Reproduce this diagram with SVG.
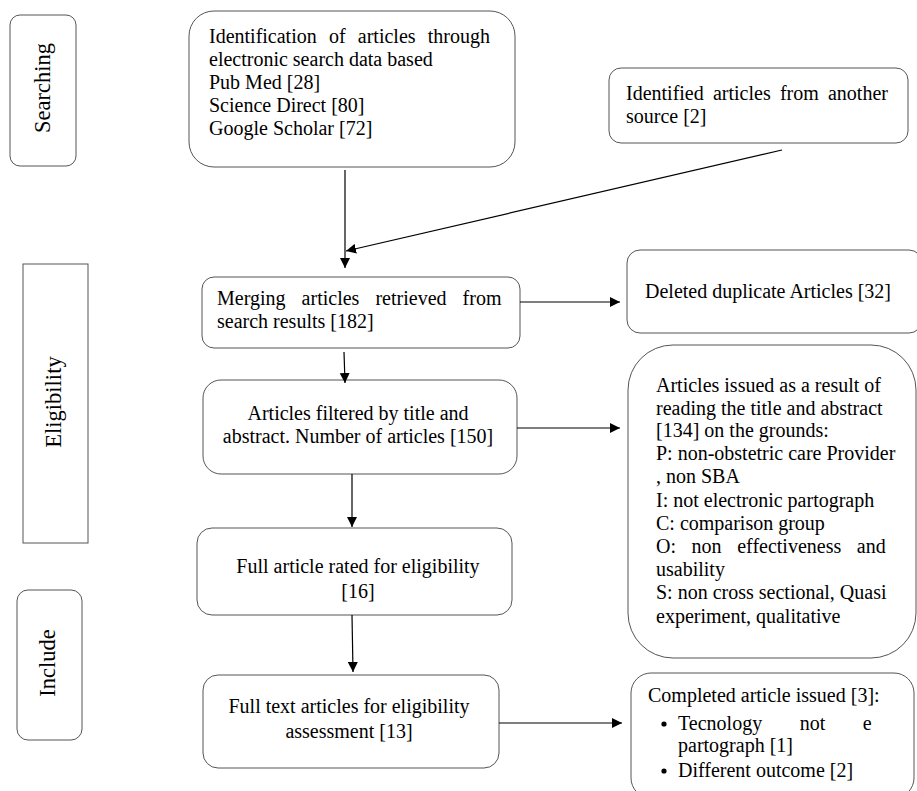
<svg xmlns="http://www.w3.org/2000/svg" width="917" height="791" viewBox="0 0 917 791">
<defs>
<marker id="ah" viewBox="0 0 10 10" refX="10" refY="5" markerWidth="10" markerHeight="10" markerUnits="userSpaceOnUse" orient="auto">
<path d="M0,0 L10,5 L0,10 Z" fill="#000"/>
</marker>
<style>
.box{fill:#fff;stroke:#555;stroke-width:1}
.t{font-family:"Liberation Serif","Times New Roman",serif;font-size:20px;fill:#000}
.v{font-family:"Liberation Serif","Times New Roman",serif;font-size:22.5px;fill:#000;text-anchor:middle}
.c{text-anchor:middle}
.ln{stroke:#000;stroke-width:1.2;fill:none;marker-end:url(#ah)}
</style>
</defs>
<rect width="917" height="791" fill="#fff"/>
<g id="stage-searching">
<rect class="box" x="10" y="15" width="66" height="151" rx="10"/>
<text class="v" transform="translate(50,88) rotate(-90)">Searching</text>
</g>
<g id="stage-eligibility">
<rect class="box" x="23" y="264" width="65" height="279"/>
<text class="v" transform="translate(61,402) rotate(-90)">Eligibility</text>
</g>
<g id="stage-include">
<rect class="box" x="17" y="590" width="65" height="150" rx="11"/>
<text class="v" transform="translate(55,663) rotate(-90)">Include</text>
</g>
<g id="identification">
<rect class="box" x="189" y="11" width="326" height="156" rx="25"/>
<text class="t" x="209" y="43" word-spacing="7.2">Identification of articles through</text>
<text class="t" x="209" y="66">electronic search data based</text>
<text class="t" x="209" y="89">Pub Med [28]</text>
<text class="t" x="209" y="112">Science Direct [80]</text>
<text class="t" x="209" y="135">Google Scholar [72]</text>
</g>
<g id="other-source">
<rect class="box" x="609" y="68" width="299" height="75" rx="12"/>
<text class="t" x="626" y="100" word-spacing="4.2">Identified articles from another</text>
<text class="t" x="626" y="123">source [2]</text>
</g>
<g id="merging">
<rect class="box" x="202" y="277" width="318" height="71" rx="12"/>
<text class="t" x="217" y="305" word-spacing="11.1">Merging articles retrieved from</text>
<text class="t" x="217" y="328">search results [182]</text>
</g>
<g id="deleted">
<rect class="box" x="627" y="250" width="295" height="83" rx="13"/>
<text class="t" x="645" y="298">Deleted duplicate Articles [32]</text>
</g>
<g id="filtered">
<rect class="box" x="203" y="380" width="314" height="94" rx="18"/>
<text class="t c" x="358" y="420">Articles filtered by title and</text>
<text class="t c" x="358" y="443">abstract. Number of articles [150]</text>
</g>
<g id="excluded">
<rect class="box" x="628" y="345" width="288" height="313" rx="45"/>
<text class="t" x="656" y="392">Articles issued as a result of</text>
<text class="t" x="656" y="415">reading the title and abstract</text>
<text class="t" x="656" y="437">[134] on the grounds:</text>
<text class="t" x="656" y="460">P: non-obstetric care Provider</text>
<text class="t" x="656" y="483">, non SBA</text>
<text class="t" x="656" y="507">I: not electronic partograph</text>
<text class="t" x="656" y="530">C: comparison group</text>
<text class="t" x="656" y="553" word-spacing="10.6">O: non effectiveness and</text>
<text class="t" x="656" y="576">usability</text>
<text class="t" x="656" y="599">S: non cross sectional, Quasi</text>
<text class="t" x="656" y="623">experiment, qualitative</text>
</g>
<g id="full-article">
<rect class="box" x="197" y="528" width="315" height="87" rx="15"/>
<text class="t c" x="358" y="573">Full article rated for eligibility</text>
<text class="t c" x="358" y="598">[16]</text>
</g>
<g id="full-text">
<rect class="box" x="203" y="675" width="296" height="93" rx="15"/>
<text class="t c" x="349" y="713">Full text articles for eligibility</text>
<text class="t c" x="349" y="738">assessment [13]</text>
</g>
<g id="completed">
<rect class="box" x="631" y="673" width="283" height="125" rx="20"/>
<text class="t" x="648" y="702">Completed article issued [3]:</text>
<circle cx="664" cy="724" r="2.6" fill="#000"/>
<text class="t" x="678" y="730" word-spacing="32.5">Tecnology not e</text>
<text class="t" x="678" y="752">partograph [1]</text>
<circle cx="664" cy="771" r="2.6" fill="#000"/>
<text class="t" x="678" y="777">Different outcome [2]</text>
</g>
<g id="connectors">
<line class="ln" x1="345" y1="170" x2="345" y2="268"/>
<line class="ln" x1="782" y1="150" x2="346" y2="251"/>
<line class="ln" x1="520" y1="302" x2="620" y2="302"/>
<line class="ln" x1="344" y1="352" x2="345" y2="383"/>
<line class="ln" x1="517" y1="428" x2="620" y2="428"/>
<line class="ln" x1="352" y1="474" x2="352" y2="527"/>
<line class="ln" x1="352" y1="615" x2="353" y2="672"/>
<line class="ln" x1="499" y1="723" x2="622" y2="723"/>
</g>
</svg>
